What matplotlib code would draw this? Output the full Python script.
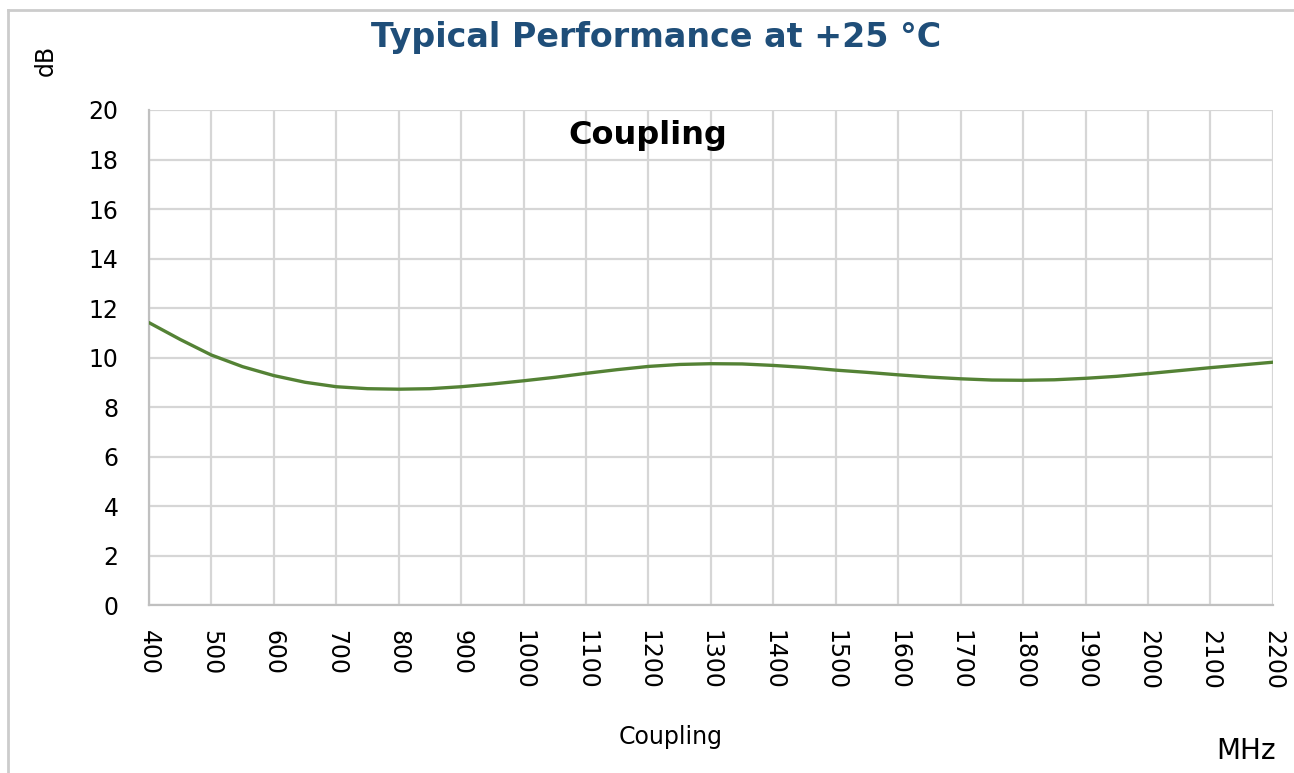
import matplotlib as mpl
mpl.use('Agg')
import matplotlib.pyplot as plt
from matplotlib.lines import Line2D

# values (every 50 MHz)
freq_mhz = list(range(400, 2201, 50))
coupling_db = [11.41, 10.73, 10.1, 9.63, 9.27, 9.0, 8.82, 8.74, 8.72, 8.74,
               8.82, 8.93, 9.06, 9.2, 9.36, 9.51, 9.64, 9.72, 9.75, 9.74,
               9.68, 9.6, 9.49, 9.4, 9.3, 9.21, 9.14, 9.09, 9.08, 9.1,
               9.16, 9.24, 9.35, 9.47, 9.59, 9.7, 9.81]
x_ticks = list(range(400, 2201, 100))
y_ticks = list(range(0, 21, 2))

plt.rcParams['font.family'] = ['DejaVu Sans']

fig = plt.figure(figsize=(12.94, 7.73), dpi=100)
ax = fig.add_axes([0.1151, 0.2173, 0.8686, 0.6404])

ax.plot(freq_mhz, coupling_db, color='#548235', lw=2.4, solid_capstyle='round',
        solid_joinstyle='round', zorder=3)

ax.set_xlim(400, 2200)
ax.set_ylim(0, 20)
ax.set_xticks(x_ticks)
ax.set_yticks(y_ticks)
ax.set_xticklabels([str(v) for v in x_ticks], rotation=-90, fontsize=17)
ax.set_yticklabels([str(v) for v in y_ticks], fontsize=17)
ax.tick_params(length=0, pad=18, axis='x')
ax.tick_params(length=0, pad=22, axis='y')
ax.grid(True, color='#d6d6d6', lw=1.6)
ax.set_axisbelow(True)
for side in ['top', 'right']:
    ax.spines[side].set_visible(False)
for side in ['left', 'bottom']:
    ax.spines[side].set_color('#c0c0c0')
    ax.spines[side].set_linewidth(1.6)

# titles and labels
fig.text(0.507, 0.951, 'Typical Performance at +25 °C', ha='center', va='center',
         fontsize=24, fontweight='bold', color='#1f4e79')
fig.text(0.501, 0.825, 'Coupling', ha='center', va='center', fontsize=23,
         fontweight='bold', color='black')
fig.text(0.518, 0.046, 'Coupling', ha='center', va='center', fontsize=17)
fig.text(0.963, 0.028, 'MHz', ha='center', va='center', fontsize=20)
fig.text(0.035, 0.922, 'dB', ha='center', va='center', fontsize=17, rotation=90)

# outer frame (top and left edges)
fig.add_artist(Line2D([8 / 1294, 1], [1 - 10 / 773, 1 - 10 / 773], color='#cccccc', lw=2))
fig.add_artist(Line2D([8 / 1294, 8 / 1294], [0, 1 - 10 / 773], color='#cccccc', lw=2))

fig.savefig('out.png', dpi=100, facecolor='white')
